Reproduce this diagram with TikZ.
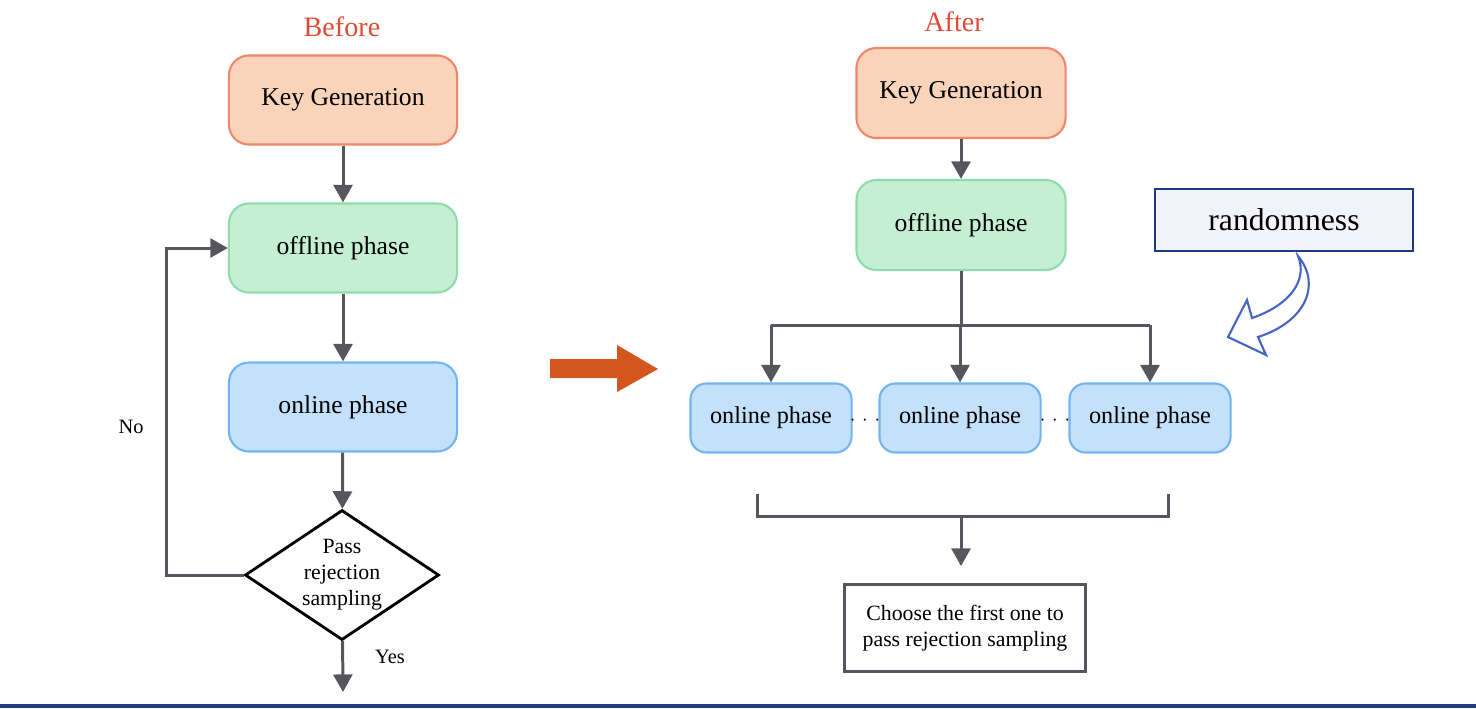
\documentclass[tikz,border=0pt]{standalone}
\usepackage{fontspec}
\setmainfont{Liberation Serif}
\usetikzlibrary{arrows.meta,shapes.geometric}
\definecolor{keyfill}{HTML}{F9D4BB}
\definecolor{keyline}{HTML}{F0876A}
\definecolor{offfill}{HTML}{C5EFD3}
\definecolor{offline}{HTML}{8FDCAA}
\definecolor{onfill}{HTML}{C3E1FA}
\definecolor{online}{HTML}{72B4F0}
\definecolor{flowgray}{HTML}{56565F}
\definecolor{titlered}{HTML}{E04A35}
\definecolor{shiftorange}{HTML}{D2561E}
\definecolor{randfill}{HTML}{F1F3F8}
\definecolor{randline}{HTML}{1E3A80}
\definecolor{curveblue}{HTML}{4565BE}

\begin{document}
\begin{tikzpicture}[x=0.01cm,y=-0.01cm,
    phasebox/.style={rounded corners=0.2cm,line width=0.6pt,align=center,
      minimum width=2.28cm,minimum height=0.89cm,
      font=\fontsize{7.3}{8.5}\selectfont},
    keybox/.style={phasebox,fill=keyfill,draw=keyline},
    offbox/.style={phasebox,fill=offfill,draw=offline},
    onbox/.style={phasebox,fill=onfill,draw=online},
    smallon/.style={onbox,rounded corners=0.16cm,minimum width=1.61cm,
      minimum height=0.69cm,font=\fontsize{6.9}{8}\selectfont},
    flow/.style={flowgray,line width=0.85pt,-{Triangle[length=5pt,width=5.4pt]}},
    flowline/.style={flowgray,line width=0.85pt},
    title/.style={text=titlered,font=\fontsize{8}{9}\selectfont},
    lbl/.style={font=\fontsize{5.8}{7}\selectfont}]
  \useasboundingbox (0,0) rectangle (1476,708);
  % before
  \node[title] (before) at (342,27) {Before};
  \node[keybox] (lkey) at (343,100) {Key Generation};
  \node[offbox] (loff) at (343,248) {offline phase};
  \node[onbox] (lon) at (343,407) {online phase};
  \node[diamond,draw=black,fill=white,line width=0.8pt,aspect=1.49,inner sep=0pt,
    minimum width=1.94cm,minimum height=1.30cm,align=center,
    font=\fontsize{6.2}{7.4}\selectfont] (pass) at (342,575)
    {Pass\\rejection\\sampling};
  \coordinate (lend) at (343,692);
  \draw[flow] (lkey) -- (loff);
  \draw[flow] (loff) -- (lon);
  \draw[flow] (lon) -- (pass);
  \draw[flow] (pass) -- (lend);
  \draw[flow] (pass.west) -- ++(-77,0) |- (loff.west);
  \node[lbl] (no) at (131,427) {No};
  \node[lbl] (yes) at (390,657) {Yes};
  % shift arrow
  \fill[shiftorange] (550,359) -- (617,359) -- (617,345) -- (658,369)
    -- (617,392) -- (617,378) -- (550,378) -- cycle;
  % after
  \node[title] (after) at (954,22) {After};
  \node[keybox,minimum width=2.09cm,minimum height=0.90cm] (rkey) at (961,93) {Key Generation};
  \node[offbox,minimum width=2.09cm,minimum height=0.90cm] (roff) at (961,225) {offline phase};
  \node[smallon] (ron1) at (771,418) {online phase};
  \node[smallon] (ron2) at (960,418) {online phase};
  \node[smallon] (ron3) at (1150,418) {online phase};
  \node[font=\fontsize{5}{6}\selectfont] (dots1) at (865,420) {$\cdots$};
  \node[font=\fontsize{5}{6}\selectfont] (dots2) at (1055,420) {$\cdots$};
  \coordinate (bar) at (961,325);
  \draw[flow] (rkey) -- (roff);
  \draw[flowline] (ron1.north |- bar) -- (ron3.north |- bar);
  \foreach \b in {ron1,ron2,ron3}
    \draw[flow] (\b.north |- bar) -- (\b.north);
  \draw[flowline] (roff) -- (bar);
  % join
  \coordinate (jl) at (757,494);
  \coordinate (jr) at (1168,494);
  \coordinate (jmid) at (961,516);
  \draw[flowline] (jl) -- ++(0,22) -| (jr);
  \node[draw=flowgray,fill=white,line width=0.85pt,align=center,
    minimum width=2.40cm,minimum height=0.87cm,
    font=\fontsize{6.2}{7.4}\selectfont] (choose) at (965,628)
    {Choose the first one to\\pass rejection sampling};
  \draw[flow,shorten >=0.17cm] (jmid) -- (choose.north -| jmid);
  % randomness
  \node[draw=randline,fill=randfill,line width=0.6pt,
    minimum width=2.58cm,minimum height=0.62cm,
    font=\fontsize{9}{10}\selectfont] (rand) at (1284,220) {randomness};
  \draw[curveblue,line width=0.6pt,line join=miter]
    (1298,256) .. controls (1322,285) and (1305,322) .. (1258,337)
    -- (1266,355) -- (1228,337) -- (1247,300) -- (1252,318)
    .. controls (1290,305) and (1308,280) .. cycle;
  \draw[randline,line width=0.9pt] (0,706) -- (1476,706);
\end{tikzpicture}
\end{document}
